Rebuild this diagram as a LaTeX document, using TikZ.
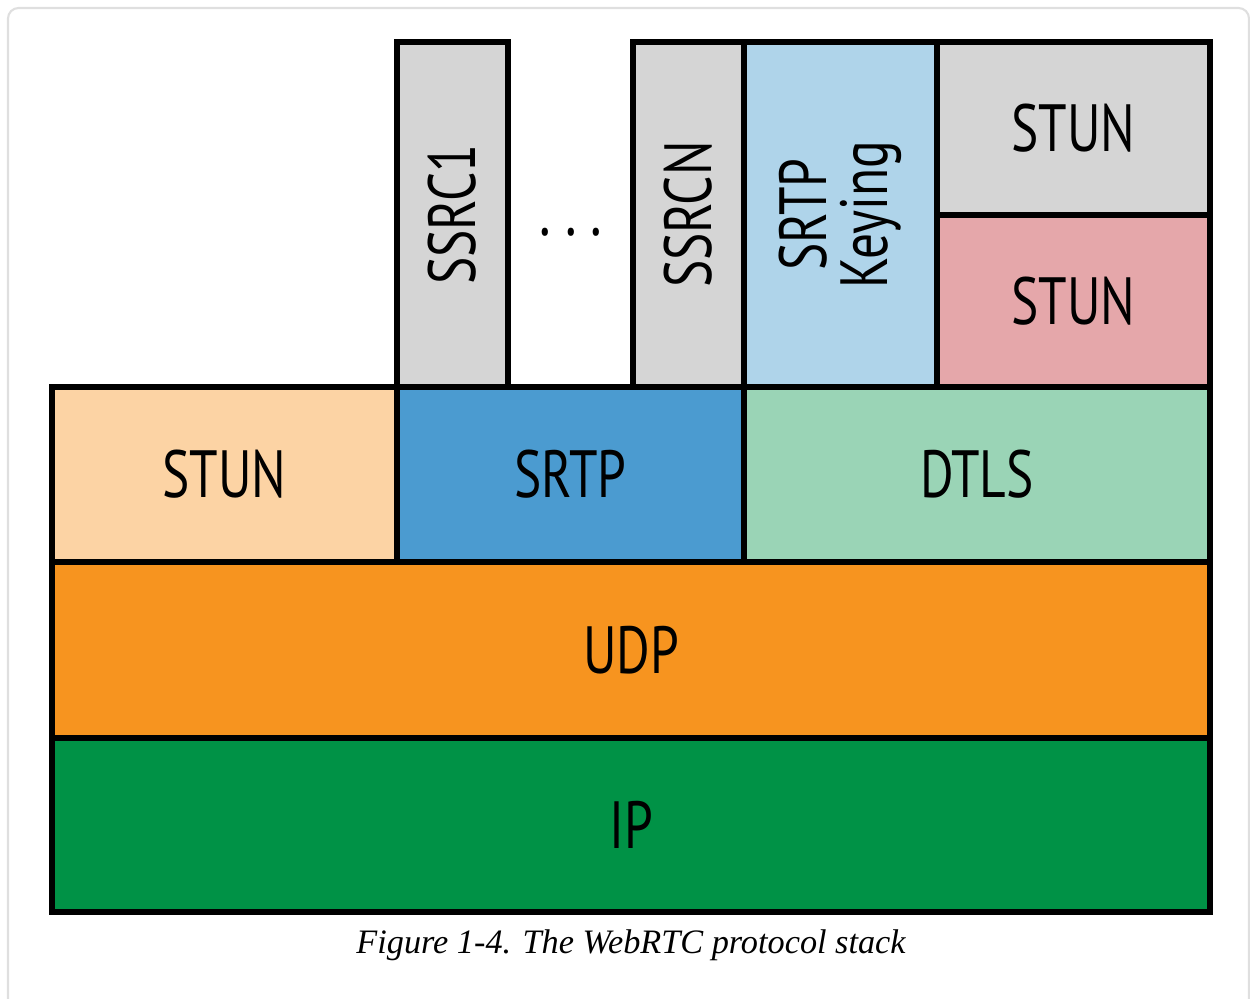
\documentclass[tikz,border=0pt]{standalone}
\usepackage{fontspec}
\usepackage{tikz}
\usepackage{xcolor}
\usetikzlibrary{positioning}

\newfontfamily\labelfont[FakeStretch=0.77]{PT Sans}
\newfontfamily\capfont{Liberation Serif}

\definecolor{boxgray}{HTML}{D5D5D5}
\definecolor{keyblue}{HTML}{AFD4EA}
\definecolor{stunpink}{HTML}{E5A7AA}
\definecolor{stunpeach}{HTML}{FCD3A4}
\definecolor{srtpblue}{HTML}{4B9BD0}
\definecolor{dtlsgreen}{HTML}{9AD4B6}
\definecolor{udporange}{HTML}{F7941F}
\definecolor{ipgreen}{HTML}{009246}

\begin{document}
\begin{tikzpicture}[
  layer/.style={draw, line width=3pt, anchor=south west, inner sep=0pt, outer sep=0pt,
    font=\labelfont\fontsize{38}{35}\selectfont},
  upright/.style={layer, rotate=90, anchor=north west, align=center}
]
\useasboundingbox (0,0) rectangle (25,19.96);
% Frame
\draw[gray!25, line width=1.2pt, rounded corners=6pt] (0.16,-1) rectangle (24.98,19.8);

% Bottom layers
\node[layer, fill=ipgreen, minimum width=23.16cm, minimum height=3.48cm] (ip) at (1.04,1.72) {IP};
\node[layer, fill=udporange, minimum width=23.16cm, minimum height=3.52cm] (udp) at (1.04,5.2) {UDP};

% Middle row
\node[layer, fill=stunpeach, minimum width=6.9cm, minimum height=3.5cm] (stun) at (1.04,8.72) {STUN};
\node[layer, fill=srtpblue, minimum width=6.94cm, minimum height=3.5cm] (srtp) at (7.94,8.72) {SRTP};
\node[layer, fill=dtlsgreen, minimum width=9.32cm, minimum height=3.5cm] (dtls) at (14.88,8.72) {DTLS};

% Top row (rotated boxes: width and height swapped)
\node[upright, fill=boxgray, minimum width=6.9cm, minimum height=2.22cm] (ssrc1) at (7.94,12.22) {SSRC1};
\node[font=\labelfont\fontsize{40}{34}\selectfont] (dots) at (11.42,15.32) {.\hspace{0.28cm}.\hspace{0.28cm}.};
\node[upright, fill=boxgray, minimum width=6.9cm, minimum height=2.22cm] (ssrcn) at (12.66,12.22) {SSRCN};
\node[upright, fill=keyblue, minimum width=6.9cm, minimum height=3.86cm] (keying) at (14.88,12.22) {SRTP\\Keying};
\node[layer, fill=stunpink, minimum width=5.46cm, minimum height=3.44cm] (stunlo) at (18.74,12.22) {STUN};
\node[layer, fill=boxgray, minimum width=5.46cm, minimum height=3.46cm] (stunhi) at (18.74,15.66) {STUN};

% Caption
\node[font=\capfont\itshape\fontsize{19.5}{22}\selectfont] (caption) at (12.62,1.06) {Figure 1-4. The WebRTC protocol stack};
\end{tikzpicture}
\end{document}
